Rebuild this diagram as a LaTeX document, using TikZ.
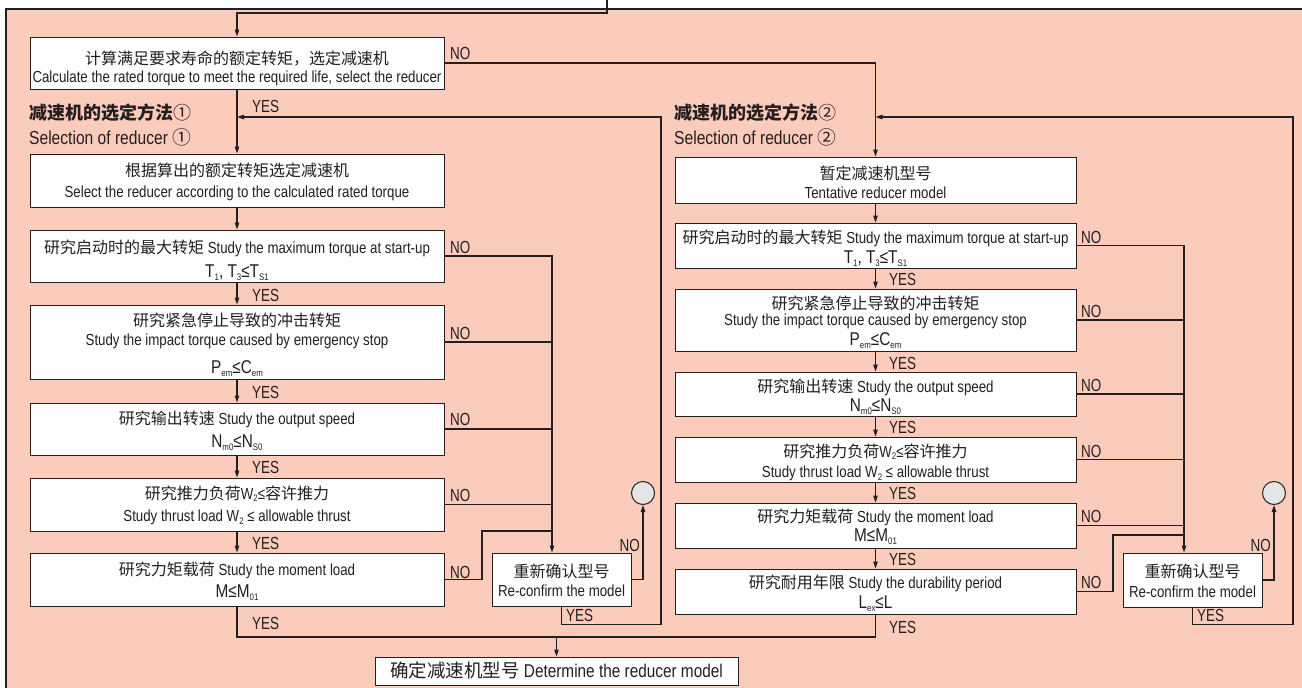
\documentclass[tikz,border=0pt]{standalone}
\usepackage{fontspec}
\setmainfont{Liberation Sans}[FakeStretch=0.83]
\newfontfamily\lblfont{Liberation Sans}[FakeStretch=0.77]
\newfontfamily\cjk{Noto Sans CJK SC}
\usetikzlibrary{arrows.meta}
\definecolor{panel}{RGB}{251,203,188}
\definecolor{ink}{RGB}{35,31,32}
\definecolor{circ}{RGB}{229,229,229}
\newcommand{\zh}[1]{{\cjk #1}}
\newcommand{\sbs}[1]{\raisebox{-0.17em}{\fontsize{9.5}{10}\selectfont #1}}
\begin{document}
\begin{tikzpicture}[x=1pt,y=-1pt,text=ink,
  line/.style={draw=ink,line width=1.1pt},
  arr/.style={line,-{Triangle[length=7pt,width=4.5pt]}},
  box/.style={draw=ink,line width=1pt,fill=white,inner sep=0pt},
  lbox/.style={box,minimum width=414},
  rbox/.style={box,minimum width=401},
  rebox/.style={box,minimum width=139,minimum height=53},
  tx/.style={inner sep=0pt,anchor=base,font=\fontsize{16}{16}\selectfont},
  fx/.style={inner sep=0pt,anchor=base,font=\fontsize{18.5}{18}\selectfont},
  lbl/.style={inner sep=0pt,font=\fontsize{17.5}{16}\lblfont,anchor=west},
  head/.style={inner sep=0pt,anchor=west,font=\fontsize{18.8}{20}\selectfont},
  circnode/.style={circle,draw=ink,line width=1pt,fill=circ,minimum size=23,inner sep=0pt}]
\useasboundingbox (0,0) rectangle (1302,688);
\fill[white] (0,0) rectangle (1302,688);
\draw[line,fill=panel] (6,9) rectangle (1320,700);
% headings
\node[head] (h1) at (29,113) {{\fontsize{18}{20}\selectfont\zh{\bfseries 减速机的选定方法}\zh{①}}};
\node[head] (s1) at (29,137) {Selection of reducer \zh{①}};
\node[head] (h2) at (674,113) {{\fontsize{18}{20}\selectfont\zh{\bfseries 减速机的选定方法}\zh{②}}};
\node[head] (s2) at (674,137) {Selection of reducer \zh{②}};
% left column boxes
\node[lbox,minimum height=52] (b1) at (237,63) {};
\node[lbox,minimum height=53] (L2) at (237,180.5) {};
\node[lbox,minimum height=52] (L3) at (237,256) {};
\node[lbox,minimum height=74] (L4) at (237,342) {};
\node[lbox,minimum height=52] (L5) at (237,429) {};
\node[lbox,minimum height=53] (L6) at (237,504.5) {};
\node[lbox,minimum height=53] (L7) at (237,579.5) {};
% right column boxes
\node[rbox,minimum height=46] (R1) at (875.5,180) {};
\node[rbox,minimum height=45] (R2) at (875.5,245.5) {};
\node[rbox,minimum height=62] (R3) at (875.5,320) {};
\node[rbox,minimum height=44] (R4) at (875.5,394) {};
\node[rbox,minimum height=45] (R5) at (875.5,459.5) {};
\node[rbox,minimum height=45] (R6) at (875.5,525.5) {};
\node[rbox,minimum height=45] (R7) at (875.5,591.5) {};
% re-confirm boxes, circles, final box
\node[rebox] (reL) at (561.5,579.5) {};
\node[rebox,minimum height=54] (reR) at (1192.5,580) {};
\node[circnode] (cL) at (643,493) {};
\node[circnode] (cR) at (1274,493) {};
\node[box,minimum width=363,minimum height=28] (fin) at (556.5,671) {};
% texts left
\node[tx] (b1a) at (237,64) {\zh{计算满足要求寿命的额定转矩，选定减速机}};
\node[tx] (b1b) at (237,82.5) {Calculate the rated torque to meet the required life, select the reducer};
\node[tx] (L2a) at (237,176) {\zh{根据算出的额定转矩选定减速机}};
\node[tx] (L2b) at (237,197.5) {Select the reducer according to the calculated rated torque};
\node[tx] (L3a) at (237,253) {\zh{研究启动时的最大转矩} Study the maximum torque at start-up};
\node[fx] (L3b) at (237,277) {T\sbs{1}, T\sbs{3}≤T\sbs{S1}};
\node[tx] (L4a) at (237,326) {\zh{研究紧急停止导致的冲击转矩}};
\node[tx] (L4b) at (237,345.5) {Study the impact torque caused by emergency stop};
\node[fx] (L4c) at (237,373) {P\sbs{em}≤C\sbs{em}};
\node[tx] (L5a) at (237,424) {\zh{研究输出转速} Study the output speed};
\node[fx] (L5b) at (237,447) {N\sbs{m0}≤N\sbs{S0}};
\node[tx] (L6a) at (237,499) {\zh{研究推力负荷}W\sbs{2}≤\zh{容许推力}};
\node[tx] (L6b) at (237,521.5) {Study thrust load W\sbs{2} ≤ allowable thrust};
\node[tx] (L7a) at (237,575) {\zh{研究力矩载荷} Study the moment load};
\node[fx] (L7b) at (237,597) {M≤M\sbs{01}};
% texts right
\node[tx] (R1a) at (875.5,179) {\zh{暂定减速机型号}};
\node[tx] (R1b) at (875.5,198.5) {Tentative reducer model};
\node[tx] (R2a) at (875.5,243) {\zh{研究启动时的最大转矩} Study the maximum torque at start-up};
\node[fx] (R2b) at (875.5,263) {T\sbs{1}, T\sbs{3}≤T\sbs{S1}};
\node[tx] (R3a) at (875.5,309) {\zh{研究紧急停止导致的冲击转矩}};
\node[tx] (R3b) at (875.5,325.5) {Study the impact torque caused by emergency stop};
\node[fx] (R3c) at (875.5,345) {P\sbs{em}≤C\sbs{em}};
\node[tx] (R4a) at (875.5,392) {\zh{研究输出转速} Study the output speed};
\node[fx] (R4b) at (875.5,411) {N\sbs{m0}≤N\sbs{S0}};
\node[tx] (R5a) at (875.5,457) {\zh{研究推力负荷}W\sbs{2}≤\zh{容许推力}};
\node[tx] (R5b) at (875.5,477.5) {Study thrust load W\sbs{2} ≤ allowable thrust};
\node[tx] (R6a) at (875.5,522) {\zh{研究力矩载荷} Study the moment load};
\node[fx] (R6b) at (875.5,541) {M≤M\sbs{01}};
\node[tx] (R7a) at (875.5,588) {\zh{研究耐用年限} Study the durability period};
\node[fx] (R7b) at (875.5,608) {L\sbs{ex}≤L};
% texts re-confirm and final
\node[tx] (reLa) at (561.5,577) {\zh{重新确认型号}};
\node[tx] (reLb) at (561.5,596.5) {Re-confirm the model};
\node[tx] (reRa) at (1192.5,577.5) {\zh{重新确认型号}};
\node[tx] (reRb) at (1192.5,597) {Re-confirm the model};
\node[tx,font=\fontsize{18.5}{18}\selectfont] (fina) at (556.5,677) {\zh{确定减速机型号} Determine the reducer model};
% coordinates
\coordinate (top) at (607,0);
\coordinate (busLx) at (552,0);
\coordinate (busRx) at (1184,0);
\coordinate (kL) at (482,531);
\coordinate (kR) at (1113,535);
\coordinate (retL) at (661,117);
\coordinate (retR) at (1293,117);
\coordinate (mg) at (556.5,637);
% connectors
\draw[arr] (top) -- ++(0,13) -| (b1.north);
\draw[arr] (b1.south) -- (L2.north);
\draw[arr] (L2.south) -- (L3.north);
\draw[arr] (L3.south) -- (L4.north);
\draw[arr] (L4.south) -- (L5.north);
\draw[arr] (L5.south) -- (L6.north);
\draw[arr] (L6.south) -- (L7.north);
\draw[arr] (b1.east) -| (R1.north);
\draw[arr] (R1.south) -- (R2.north);
\draw[arr] (R2.south) -- (R3.north);
\draw[arr] (R3.south) -- (R4.north);
\draw[arr] (R4.south) -- (R5.north);
\draw[arr] (R5.south) -- (R6.north);
\draw[arr] (R6.south) -- (R7.north);
% left NO bus
\draw[arr] (L3.east) -| (reL.north -| busLx);
\draw[line] (L4.east) -- (L4.east -| busLx);
\draw[line] (L5.east) -- (L5.east -| busLx);
\draw[line] (L6.east) -- (L6.east -| busLx);
\draw[line] (L7.east) -| (kL) -- (kL -| busLx);
\draw[arr] (reL.east) -| (cL.south);
\draw[arr] (reL.south) -- ++(0,18) -| (retL) -- (b1.south |- retL);
% right NO bus
\draw[arr] (R2.east) -| (reR.north -| busRx);
\draw[line] (R3.east) -- (R3.east -| busRx);
\draw[line] (R4.east) -- (R4.east -| busRx);
\draw[line] (R5.east) -- (R5.east -| busRx);
\draw[line] (R6.east) -- (R6.east -| busRx);
\draw[line] (R7.east) -| (kR) -- (kR -| busRx);
\draw[arr] (reR.east) -| (cR.south);
\draw[arr] (reR.south) -- ++(0,17) -| (retR) -- (R1.north |- retR);
% merge to final
\draw[line] (L7.south) |- (mg) -| (R7.south);
\draw[arr] (mg) -- (fin.north);
% labels
\node[lbl] (n1) at (450,53) {NO};
\node[lbl] (n2) at (450,247) {NO};
\node[lbl] (n3) at (450,333) {NO};
\node[lbl] (n4) at (450,419) {NO};
\node[lbl] (n5) at (450,495) {NO};
\node[lbl] (n6) at (450,572) {NO};
\node[lbl] (n7) at (1081,237) {NO};
\node[lbl] (n8) at (1081,311) {NO};
\node[lbl] (n9) at (1081,385) {NO};
\node[lbl] (n10) at (1081,451) {NO};
\node[lbl] (n11) at (1081,516) {NO};
\node[lbl] (n12) at (1081,582) {NO};
\node[lbl,anchor=east] (n13) at (640,545) {NO};
\node[lbl,anchor=east] (n14) at (1271,545) {NO};
\node[lbl] (y1) at (252,106) {YES};
\node[lbl] (y2) at (252,295) {YES};
\node[lbl] (y3) at (252,392) {YES};
\node[lbl] (y4) at (252,467) {YES};
\node[lbl] (y5) at (252,543) {YES};
\node[lbl] (y6) at (252,623) {YES};
\node[lbl] (y7) at (889,279) {YES};
\node[lbl] (y8) at (889,363) {YES};
\node[lbl] (y9) at (889,427) {YES};
\node[lbl] (y10) at (889,493) {YES};
\node[lbl] (y11) at (889,559) {YES};
\node[lbl] (y12) at (889,627) {YES};
\node[lbl] (y13) at (566,615) {YES};
\node[lbl] (y14) at (1197,615) {YES};
\end{tikzpicture}
\end{document}
